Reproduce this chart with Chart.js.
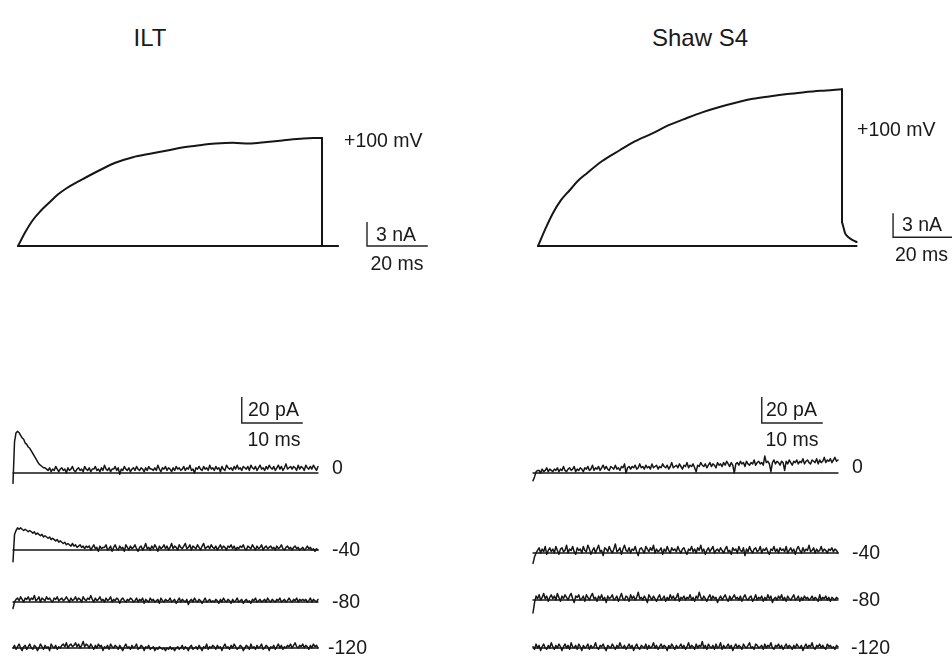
<!DOCTYPE html>
<html>
<head>
<meta charset="utf-8">
<script src="https://cdn.jsdelivr.net/npm/chart.js@4.4.1/dist/chart.umd.min.js"></script>
<style>
  body { margin: 0; background: #fff; }
  #fig { position: relative; width: 952px; height: 661px; overflow: hidden; background: #fff; }
  #fig canvas { position: absolute; }
  .lbl { position: absolute; font-family: "Liberation Sans", Arial, sans-serif; color: #1a1a1a; line-height: 1; white-space: nowrap; }
</style>
</head>
<body>
<div id="fig"></div>
<script>
// ---- data ----
// top: currents at +100 mV (nA) vs time (ms); rise, then step back at 100 ms
const iltTime = [0, 2.5, 4.9, 7.5, 10.5, 13, 16.1, 21, 27, 32, 37.8, 43, 48.7, 54, 59.9, 65, 70.7, 76, 81.9, 87, 92.8, 97, 100, 100];
const iltCurrent = [0, 1.8, 3.25, 4.4, 5.5, 6.4, 7.25, 8.3, 9.5, 10.4, 11.1, 11.5, 11.9, 12.3, 12.6, 12.8, 12.9, 12.8, 13.0, 13.2, 13.4, 13.5, 13.5, 0];
const shawTime = [0, 2.5, 4.9, 7.5, 10.5, 13, 16.1, 21, 27, 32, 37.8, 43, 49, 54, 60, 65, 70.7, 76, 82, 87, 92.8, 97, 100, 100, 100.5, 101, 101.8, 102.6, 103.7, 104.8];
const shawCurrent = [0, 2.2, 4.1, 5.7, 7.0, 8.1, 9.1, 10.6, 12.0, 13.1, 14.1, 15.1, 16.0, 16.7, 17.4, 17.9, 18.4, 18.7, 19.0, 19.2, 19.4, 19.5, 19.6, 3.0, 2.3, 1.6, 1.2, 0.95, 0.7, 0.5];
const iltBaseEnd = 105.3;
const shawBaseEnd = 104.8;

// bottom: currents (pA), sampled every DT ms for 50 ms
const DT = 0.25;
const stepLabels = ['0', '-40', '-80', '-120'];

const ilt_0 = [-8,24,31,32,31,29,27,26,23,22,20,19,17,15,13,11,9,7,6,5,4,4,3,
 2,4,1,3,2,5,3,1,3,4, 2,3,0,4,2,3,5,2,1,3, 4,2,3,1,5,3,2,4,1,3, 3,5,2,3,1,4,2,6,3,2,
 4,1,3,3,5,2,4,-1,3,2, 5,3,2,4,1,3,4,2,5,3, 2,4,3,1,4,2,5,3,3,2, 4,2,6,3,1,4,3,5,2,4,
 3,1,4,2,5,3,4,2,3,5, 2,4,3,6,2,3,0,4,3,5, 3,2,5,3,4,2,6,3,4,2, 5,3,4,1,5,3,2,6,4,3,
 4,2,5,3,6,3,4,2,5,4, 3,5,2,6,4,3,5,2,4,6, 3,4,2,5,3,6,4,3,5,2, 4,6,3,5,2,4,7,3,4,5,
 3,5,4,2,6,3,5,4,2,6, 4,3,5,3,6,4,2,5];
const ilt_40 = [-9,12,15,17,16,17,16,15,16,15, 14,15,14,13,14,12,13,12,11,12, 10,11,10,9,10,8,9,8,7,8,
 6,7,6,5,6,4,5,4,3,5, 3,4,2,3,4,2,3,1,3,2,
 3,0,2,4,1,2,-1,3,1,2, 2,4,0,1,3,-1,2,4,1,0, 3,1,2,-1,4,2,0,3,1,2, 4,1,-1,2,3,0,2,5,1,2,
 0,3,1,4,2,-1,3,1,2,4, 1,3,0,2,5,1,3,2,0,4, 2,1,3,5,1,2,4,0,3,2, 1,4,2,0,3,5,1,2,3,1,
 4,2,1,3,0,2,4,1,3,2, 0,3,2,4,1,3,0,2,1,3, 2,4,1,0,3,2,1,4,2,0, 3,1,2,4,0,2,3,1,2,3,
 1,2,0,3,1,2,4,1,0,2, 3,1,2,0,2,3,1,2,0,1, 2,0,1,3,1,2,0,1,-1,1, 0];
const ilt_80 = [-5,0,
 2,3,1,4,2,0,3,2,4,1, 3,2,5,1,2,4,0,3,2,1, 4,2,3,1,0,3,2,4,1,2, 3,1,2,4,2,0,3,1,2,4,
 1,3,2,0,4,2,1,3,2,5, 2,0,3,1,2,4,1,2,0,3, 1,2,4,0,2,1,3,2,-1,2, 3,1,0,2,1,3,2,0,1,3,
 0,2,1,3,-1,2,1,0,3,1, 2,0,1,2,-1,3,1,0,2,1, 1,3,0,1,2,-1,1,3,0,2, 1,0,2,-2,1,2,0,3,1,0,
 2,1,-1,1,3,0,1,2,0,1, 0,2,1,-1,2,0,3,1,0,2, 1,-1,2,0,1,3,0,1,2,-1, 1,2,0,1,-1,2,1,3,0,1,
 2,0,1,2,0,3,1,0,2,1, 0,2,1,3,0,1,2,0,1,3, 1,0,2,1,3,0,2,1,2, 1,2,0,1,3,0,2,1,0,2];
const ilt_120 = [
 0,2,-1,1,3,0,-2,1,2,-1, 1,3,0,-1,2,1,-2,0,3,1, -1,2,0,1,-2,3,1,0,2,-1, 1,0,2,3,1,4,0,2,3,1,
 2,4,1,3,0,2,5,1,3,2, 0,3,1,-1,2,0,3,1,2,-2, 1,0,2,-1,3,1,0,2,1,-1, 2,0,-2,1,3,0,1,-1,2,0,
 1,3,-1,0,2,1,-2,1,0,2, -1,0,1,-2,0,-1,1,0,-1,0, -2,0,-1,1,-1,0,-2,0,1,-1, 0,2,-1,1,0,-2,1,2,-1,0,
 1,-1,2,0,-2,1,0,3,-1,1, 0,2,1,-1,2,0,1,-2,1,3, 0,1,-1,2,0,3,1,-1,0,2, 1,-2,0,2,1,-1,3,0,1,-1,
 2,0,1,3,-1,0,2,1,-2,1, 0,2,-1,1,3,0,2,-1,1,0, 2,1,3,0,2,4,1,0,2,1, 3,0,2,1,-1,2,0,3,1,2, 0];

const shaw_0 = [-6,-3,1,2,
 2,0,3,1,2,4,1,3,2,1, 3,2,4,1,3,2,5,2,1,3, 4,2,3,5,1,3,2,4,3,1, 4,3,5,2,3,6,2,4,3,5,
 2,4,6,3,5,3,2,5,4,3, 6,3,4,2,5,4,7,0,4,5, 3,5,4,6,3,4,7,4,5,3, 6,4,5,3,7,4,5,6,3,5,
 4,7,5,4,6,3,5,8,4,5, 6,4,7,5,3,6,5,8,4,6, 5,7,4,1,6,5,8,6,5,7, 4,6,8,5,7,6,4,8,6,7,
 5,8,6,9,7,5,8,6,0,7, 8,6,9,7,8,5,9,7,6,8, 7,10,6,8,9,7,8,6,13,8, 9,7,1,8,10,7,9,8,6,9,
 8,2,9,7,10,8,6,9,8,10, 7,9,8,11,7,9,10,8,7,10, 9,8,11,7,10,8,9,12,8,10, 9,11,8,10,12,9,10];
const shaw_40 = [-8,-3,0,
 2,4,0,3,1,5,-1,2,4,1, 3,0,5,2,-1,3,4,1,2,6, 0,3,2,5,1,-1,4,2,3,0, 5,2,1,6,3,-1,2,4,0,3,
 6,1,2,-2,4,3,1,5,2,0, 3,7,1,2,4,-1,3,6,2,1, 4,0,3,2,5,1,-2,3,4,2, 0,5,3,1,4,2,6,0,3,1,
 2,4,-1,3,1,5,2,0,4,2, 3,1,5,2,0,3,4,1,-1,3, 2,5,1,3,0,4,2,6,1,3, -1,2,4,1,3,5,0,2,3,1,
 4,2,0,3,5,1,2,-1,4,2, 3,0,5,2,1,4,-2,3,1,5, 2,0,3,4,1,2,5,0,3,2, 4,1,-1,3,2,5,1,3,0,4,
 2,3,1,5,0,2,4,1,3,-1, 3,5,2,0,4,1,3,2,6,1, 2,4,0,3,1,2,5,1,3, 2,0,3,2,4,1,3,2,0];
const shaw_80 = [-10,-2,
 3,1,4,0,2,5,1,3,-1,2, 4,1,3,0,5,2,-1,3,1,4, 2,0,3,5,1,-2,3,2,4,0, 1,3,-1,4,2,0,3,5,1,2,
 -1,3,1,4,0,2,-2,3,1,2, 4,0,1,3,-1,2,5,1,0,3, 2,-1,4,1,3,0,2,6,1,2, 0,3,1,-2,4,2,0,3,1,-1,
 2,4,0,1,3,-1,2,0,4,1, 3,0,2,5,-1,2,1,3,0,2, 1,4,0,2,-1,3,1,6,2,0, 3,1,-1,2,4,0,3,1,2,-2,
 1,3,0,2,4,1,-1,3,0,2, 4,1,2,0,3,-1,2,4,1,0, 2,3,-1,1,4,0,2,1,3,-1, 2,0,4,1,3,-2,1,2,0,3,
 1,4,0,2,-1,3,1,0,2,4, 0,1,3,-1,2,0,3,1,2,0, 1,3,0,2,1,-1,4,0,2, 1,3,0,2,-1,2,1,0,2,1];
const shaw_120 = [
 1,-1,3,0,2,-2,1,3,0,-1, 2,0,4,1,-1,2,0,3,1,-2, 1,3,0,2,-1,4,1,0,2,-1, 3,1,-2,2,0,1,3,-1,2,0,
 1,4,0,-1,2,1,3,0,-2,2, 1,0,3,1,-1,2,0,4,1,0, 2,-1,1,3,0,2,-2,1,3,0, -1,2,1,0,3,-1,2,0,1,4,
 0,2,-1,1,3,0,2,1,-2,2, 0,3,1,-1,2,0,1,3,0,2, -1,1,4,0,2,1,-1,3,0,2, 1,5,0,2,-1,3,1,0,2,-1,
 3,0,1,4,-1,2,0,1,3,0, 2,-2,1,3,0,2,1,-1,3,1, 0,2,4,0,1,-1,3,2,0,1, 2,-1,3,0,2,1,4,0,-1,2,
 1,3,0,2,-1,1,3,0,2,1, -1,2,0,3,1,0,2,-2,1,3, 0,2,1,4,0,-1,2,1,3,0, 2,0,-1,3,1,2,0,1,-1,2, 1];

const iltSteps = [ilt_0, ilt_40, ilt_80, ilt_120];
const shawSteps = [shaw_0, shaw_40, shaw_80, shaw_120];

// ---- layout (pixels) ----
const TOP_PX_MS = 3.04, TOP_PX_NA = 8;
const BOT_PX_MS = 6.1, BOT_PX_PA = 1.3;
const iltBottomBase = [473, 550, 602, 648];
const shawBottomBase = [473, 553, 600, 648];
const INK = '#161616';

const fig = document.getElementById('fig');

function addCanvas(b) {
  const c = document.createElement('canvas');
  c.width = b.w; c.height = b.h;
  c.style.left = b.x + 'px'; c.style.top = b.y + 'px';
  c.style.width = b.w + 'px'; c.style.height = b.h + 'px';
  fig.appendChild(c);
  return c;
}

function addText(str, x, cy, size, center) {
  const d = document.createElement('div');
  d.className = 'lbl';
  d.textContent = str;
  d.style.fontSize = size + 'px';
  d.style.left = x + 'px';
  d.style.top = (cy - size * 0.49) + 'px';
  if (center) d.style.transform = 'translateX(-50%)';
  fig.appendChild(d);
}

const scaleBarPlugin = {
  id: 'scaleBar',
  afterDatasetsDraw(chart, args, opts) {
    if (!opts || opts.dx === undefined) return;
    const xs = chart.scales.x, ys = chart.scales.y, ctx = chart.ctx;
    const x0 = xs.getPixelForValue(opts.x), y0 = ys.getPixelForValue(opts.y);
    const x1 = xs.getPixelForValue(opts.x + opts.dx), y1 = ys.getPixelForValue(opts.y + opts.dy);
    ctx.save();
    ctx.strokeStyle = '#222';
    ctx.lineWidth = 1.4;
    ctx.beginPath();
    ctx.moveTo(x0, y1); ctx.lineTo(x0, y0); ctx.lineTo(x1, y0);
    ctx.stroke();
    ctx.restore();
  }
};

function makeChart(box, anchor, pxX, pxY, datasets, bar) {
  const c = addCanvas(box);
  const xmin = -(anchor.x - box.x) / pxX, xmax = xmin + box.w / pxX;
  const ymax = (anchor.y - box.y) / pxY, ymin = ymax - box.h / pxY;
  return new Chart(c, {
    type: 'line',
    data: { datasets },
    options: {
      responsive: false,
      animation: false,
      devicePixelRatio: 1,
      layout: { padding: 0 },
      scales: {
        x: { type: 'linear', display: false, min: xmin, max: xmax },
        y: { type: 'linear', display: false, min: ymin, max: ymax }
      },
      plugins: { legend: { display: false }, tooltip: { enabled: false }, scaleBar: bar || {} },
      elements: { point: { radius: 0 }, line: { tension: 0, borderJoinStyle: 'round', borderCapStyle: 'round' } }
    },
    plugins: [scaleBarPlugin]
  });
}

function pairs(xs, ys) { return ys.map((v, i) => ({ x: xs[i], y: v })); }
function sampled(ys) { return ys.map((v, i) => ({ x: i * DT, y: v })); }

// split a top trace into smooth parts (rise, tail) and the straight step at the pulse end
function topDatasets(time, cur, baseEnd) {
  const pts = pairs(time, cur);
  const k = time.indexOf(100);             // last point of the rise
  const rise = pts.slice(0, k + 1);
  const step = pts.slice(k, k + 2);
  const tail = pts.slice(k + 1);
  const smooth = { borderColor: INK, borderWidth: 2, fill: false, cubicInterpolationMode: 'monotone' };
  const sets = [
    Object.assign({ data: rise }, smooth),
    { data: step, borderColor: INK, borderWidth: 2, fill: false },
    { data: [{ x: 0, y: 0 }, { x: baseEnd, y: 0 }], borderColor: INK, borderWidth: 2, fill: false }
  ];
  if (tail.length > 1) sets.push(Object.assign({ data: tail }, smooth));
  return sets;
}

// ---- top panels ----
makeChart({ x: 0, y: 70, w: 470, h: 200 }, { x: 18, y: 246 }, TOP_PX_MS, TOP_PX_NA,
  topDatasets(iltTime, iltCurrent, iltBaseEnd), { x: 114.8, y: 0, dx: 20, dy: 3 });

makeChart({ x: 480, y: 70, w: 472, h: 200 }, { x: 538, y: 246 }, TOP_PX_MS, TOP_PX_NA,
  topDatasets(shawTime, shawCurrent, shawBaseEnd), { x: 116.8, y: 1.1, dx: 20, dy: 3 });

// ---- bottom panels ----
function bottomColumn(steps, x0, bases, boxX) {
  steps.forEach((vals, k) => {
    const base = bases[k];
    const bar = k === 0 ? { x: 37.5, y: 38.5, dx: 10, dy: 20 } : null;
    makeChart({ x: boxX, y: base - 90, w: 340, h: 110 }, { x: x0, y: base }, BOT_PX_MS, BOT_PX_PA, [
      { data: sampled(vals), borderColor: INK, borderWidth: 1.5, fill: false },
      { data: [{ x: 0, y: 0 }, { x: 50, y: 0 }], borderColor: INK, borderWidth: 1.3, fill: false }
    ], bar);
  });
}
bottomColumn(iltSteps, 13, iltBottomBase, 0);
bottomColumn(shawSteps, 533, shawBottomBase, 505);

// ---- text ----
addText('ILT', 150, 38, 24, true);
addText('Shaw S4', 700, 38, 24, true);
addText('+100 mV', 344, 141, 19.5);
addText('+100 mV', 857, 130, 19.5);
addText('3 nA', 376, 235, 19.5);
addText('20 ms', 397, 264, 19.5, true);
addText('3 nA', 902, 225, 19.5);
addText('20 ms', 895, 255, 19.5);
addText('20 pA', 248, 410, 19.5);
addText('10 ms', 274, 440, 19.5, true);
addText('20 pA', 766, 410, 19.5);
addText('10 ms', 792, 440, 19.5, true);
stepLabels.forEach((s, k) => {
  addText(s, s === '-120' ? 328 : 332, iltBottomBase[k] - (k === 0 ? 5 : 0), 19.5);
  addText(s, s === '-120' ? 851 : 852, shawBottomBase[k] - (k === 0 ? 6 : 0), 19.5);
});
</script>
</body>
</html>
